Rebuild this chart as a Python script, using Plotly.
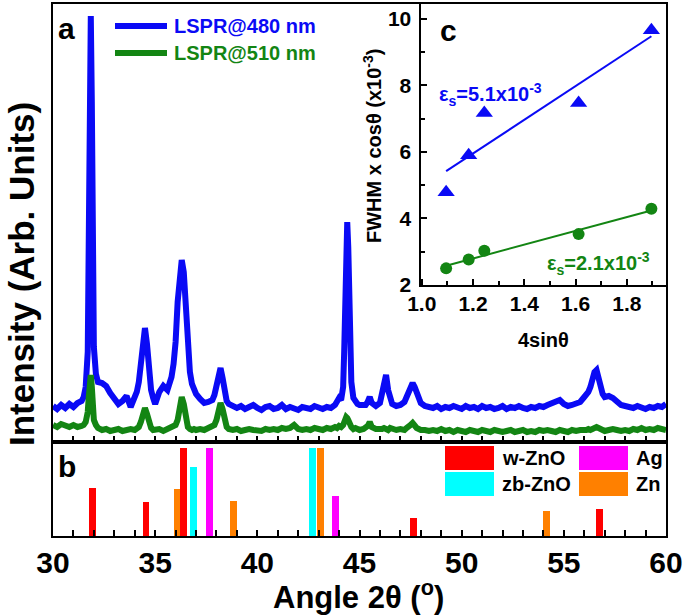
import plotly.graph_objects as go
import numpy as np

# ---------------- Panel a: XRD patterns (arb. units) ----------------
two_theta = [
    30.0, 30.2, 30.4, 30.6, 30.8, 31.0, 31.2, 31.4,
    31.5, 31.6, 31.7, 31.75, 31.8, 31.85, 31.9, 31.95, 32.0, 32.1, 32.2,
    32.4, 32.6, 32.8, 33.0, 33.2, 33.4, 33.6, 33.8, 34.0,
    34.1, 34.2, 34.3, 34.4, 34.5, 34.6, 34.7, 34.8, 34.9,
    35.0, 35.2, 35.4, 35.6, 35.8,
    35.9, 36.0, 36.1, 36.2, 36.3, 36.4, 36.5, 36.6, 36.7, 36.8, 36.9,
    37.0, 37.2, 37.4, 37.6, 37.8,
    37.9, 38.0, 38.1, 38.2, 38.3, 38.4, 38.5, 38.6,
    38.8, 39.0, 39.2, 39.4, 39.6, 39.8, 40.0, 40.2, 40.4, 40.6, 40.8, 41.0, 41.2,
    41.4, 41.6, 41.8, 42.0, 42.2, 42.4, 42.6, 42.8, 43.0, 43.2, 43.4, 43.6, 43.8,
    43.9, 44.0, 44.1, 44.2, 44.25, 44.3, 44.35, 44.4, 44.45, 44.5, 44.55, 44.6, 44.7, 44.8, 44.9,
    45.0, 45.2, 45.3, 45.4, 45.5, 45.6, 45.8,
    46.0, 46.1, 46.2, 46.3, 46.4, 46.5, 46.6, 46.8, 47.0, 47.2, 47.3, 47.4, 47.5, 47.6, 47.7,
    47.8, 47.9, 48.0, 48.2,
    48.4, 48.6, 48.8, 49.0, 49.2, 49.4, 49.6, 49.8, 50.0, 50.2, 50.4, 50.6, 50.8, 51.0, 51.2,
    51.4, 51.6, 51.8, 52.0, 52.2, 52.4, 52.6, 52.8, 53.0, 53.2, 53.4, 53.6, 53.8, 54.0, 54.2,
    54.4, 54.6, 54.8, 55.0, 55.2, 55.4, 55.6, 55.8, 56.0,
    56.1, 56.2, 56.3, 56.4, 56.5, 56.6, 56.7, 56.8, 56.9, 57.0, 57.2, 57.4, 57.6, 57.8,
    58.0, 58.2, 58.4, 58.6, 58.8, 59.0, 59.2, 59.4, 59.6, 59.8, 60.0,
]

lspr480 = [
    36, 33, 37, 34, 38, 35, 39, 41,
    45, 55, 90, 190, 360, 426, 340, 170, 95, 68, 60,
    59, 56, 49, 44, 38, 41, 46, 35, 44,
    50, 60, 80, 105, 114, 98, 70, 52, 44,
    38, 50, 56, 52, 65,
    78, 100, 140, 172, 182, 170, 135, 100, 70, 58, 52,
    48, 43, 39, 40, 42,
    47, 55, 68, 74, 64, 48, 41, 38,
    36, 34, 36, 33, 35, 37, 34, 32, 35, 36, 33, 34, 37,
    33, 35, 34, 32, 35, 34, 33, 36, 34, 33, 35, 34, 37,
    40, 44, 42, 55, 90, 160, 210, 220, 195, 140, 90, 60, 44, 40, 38,
    37, 36, 37, 40, 45, 39, 36,
    39, 48, 63, 67, 52, 41, 38, 36, 37, 40, 45, 51, 57, 59, 55,
    48, 42, 39, 36,
    35, 34, 36, 33, 35, 34, 36, 34, 33, 36, 34, 35, 33, 36, 34,
    35, 33, 34, 36, 33, 35, 34, 36, 34, 33, 35, 34, 36, 35, 37,
    39, 40, 42, 38, 36, 37, 38, 40, 45,
    47, 50, 55, 63, 70, 72, 62, 53, 48, 45, 46, 44, 40, 37,
    36, 35, 34, 36, 35, 33, 35, 34, 36, 35, 38,
]

lspr510 = [
    17, 15, 18, 16, 15, 17, 15, 16,
    17, 20, 30, 45, 62, 67, 55, 35, 22, 17, 14,
    12, 13, 11, 12, 13, 11, 12, 13, 12,
    13, 15, 20, 29, 34, 28, 19, 14, 12,
    12, 13, 11, 13, 14,
    15, 17, 22, 34, 45, 38, 22, 15, 13, 12, 13,
    12, 13, 12, 14, 15,
    17, 22, 32, 39, 33, 22, 15, 13,
    12, 13, 11, 12, 13, 12, 12, 11, 13, 12, 13, 12, 14,
    13, 14, 17, 13, 12, 13, 12, 14, 13, 12, 14, 13, 15,
    14, 16, 15, 17, 19, 22, 25, 24, 22, 19, 16, 15, 13, 14, 13,
    12, 13, 14, 16, 20, 15, 13,
    12, 13, 14, 13, 12, 14, 13, 12, 13, 12, 14, 15, 17, 19, 16,
    14, 13, 12, 12,
    11, 12, 11, 13, 11, 12, 10, 12, 11, 10, 12, 11, 10, 12, 11,
    10, 12, 11, 10, 11, 12, 10, 11, 12, 10, 11, 10, 12, 11, 12,
    11, 10, 12, 11, 10, 12, 11, 12, 11,
    12, 13, 12, 13, 14, 15, 14, 13, 12, 11, 12, 13, 12, 11,
    12, 11, 13, 12, 14, 12, 13, 12, 14, 13, 12,
]
assert len(two_theta) == len(lspr480) == len(lspr510)

series_names = ["LSPR@480 nm", "LSPR@510 nm"]
series_colors = ["#0A0AF5", "#138513"]

# ---------------- Panel b: reference patterns (relative intensity) ----------------
wzno_pos = [31.92, 34.55, 36.40, 47.66, 56.73]
wzno_int = [55, 39, 100, 21, 31]
zbzno_pos = [36.86, 42.72]
zbzno_int = [79, 100]
ag_pos = [37.65, 43.81]
ag_int = [100, 46]
zn_pos = [36.07, 38.83, 43.08, 54.15]
zn_int = [53, 40, 100, 29]
ref_names = ["w-ZnO", "zb-ZnO", "Ag", "Zn"]
ref_colors = ["#FF0000", "#00FFFF", "#FF00FF", "#FF8000"]

# ---------------- Panel c: Williamson-Hall ----------------
four_sin_theta = [1.095, 1.183, 1.244, 1.612, 1.896]
wh_480 = [4.79, 5.90, 7.17, 7.47, 9.66]
wh_510 = [2.50, 2.77, 3.03, 3.53, 4.29]
strain_labels = ["ε<sub>s</sub>=5.1x10<sup>-3</sup>", "ε<sub>s</sub>=2.1x10<sup>-3</sup>"]

# ---------------- figure ----------------
W, H = 685, 615
L, R, T, B = 53, 19, 4, 79
PW, PH = W - L - R, H - T - B


def px(x):
    return (x - L) / PW


def py(y):
    return (T + PH - y) / PH


FONT = "Liberation Sans, Arial, sans-serif"
split = py(442)

fig = go.Figure()

for vals, name, col in zip([lspr480, lspr510], series_names, series_colors):
    fig.add_trace(go.Scatter(x=two_theta, y=vals, mode="lines", name=name,
                             line=dict(color=col, width=6), xaxis="x", yaxis="y",
                             showlegend=False))

for pos, inten, name, col in zip([zn_pos, zbzno_pos, ag_pos, wzno_pos],
                                 [zn_int, zbzno_int, ag_int, wzno_int],
                                 ["Zn", "zb-ZnO", "Ag", "w-ZnO"],
                                 ["#FF8000", "#00FFFF", "#FF00FF", "#FF0000"]):
    fig.add_trace(go.Bar(x=pos, y=inten, name=name, width=0.34, marker=dict(color=col, line=dict(width=0)),
                         xaxis="x2", yaxis="y2", showlegend=False))

xfit = np.array([four_sin_theta[0], four_sin_theta[-1]])
for vals, col, sym, size in [(wh_480, series_colors[0], "triangle-up", 15),
                             (wh_510, series_colors[1], "circle", 12)]:
    k, b0 = np.polyfit(four_sin_theta, vals, 1)
    fig.add_trace(go.Scatter(x=xfit, y=k * xfit + b0, mode="lines", line=dict(color=col, width=2),
                             xaxis="x3", yaxis="y3", showlegend=False))
    fig.add_trace(go.Scatter(x=four_sin_theta, y=vals, mode="markers",
                             marker=dict(symbol=sym, size=size, color=col),
                             xaxis="x3", yaxis="y3", showlegend=False))

axis_common = dict(showline=True, linewidth=2, linecolor="black", mirror=True,
                   showgrid=False, zeroline=False, automargin=False)

fig.update_layout(
    width=W, height=H,
    margin=dict(l=L, r=R, t=T, b=B, autoexpand=False),
    paper_bgcolor="white", plot_bgcolor="white",
    showlegend=False, barmode="overlay", bargap=0,
    font=dict(family=FONT, color="black"),
    xaxis=dict(domain=[0, 1], anchor="y", range=[30, 60], showticklabels=False,
               ticks="inside", dtick=1, tick0=30, ticklen=6, tickwidth=2, tickcolor="black",
               **axis_common),
    yaxis=dict(domain=[split, 1], anchor="x", range=[0, 438], showticklabels=False,
               ticks="", **axis_common),
    xaxis2=dict(domain=[0, 1], anchor="y2", range=[30, 60], dtick=5, tick0=30,
                ticks="inside", ticklen=6, tickwidth=2, tickcolor="black",
                minor=dict(dtick=1, tick0=30, ticks="inside", ticklen=6, tickwidth=2, tickcolor="black"),
                tickfont=dict(size=30, family=FONT, weight="bold", color="black"),
                ticklabelstandoff=-1, **axis_common),
    yaxis2=dict(domain=[0, split], anchor="x2", range=[0, 107], showticklabels=False,
                ticks="", **axis_common),
    xaxis3=dict(domain=[px(420.5), 1], anchor="y3", range=[0.995, 1.953],
                dtick=0.2, tick0=1.0, tickformat=".1f",
                ticks="inside", ticklen=6, tickwidth=2, tickcolor="black",
                minor=dict(dtick=0.1, tick0=1.0, ticks="inside", ticklen=4, tickwidth=2, tickcolor="black"),
                tickfont=dict(size=21, family=FONT, weight="bold", color="black"),
                ticklabelstandoff=-1, **axis_common),
    yaxis3=dict(domain=[py(285), 1], anchor="x3", range=[2, 10.45],
                dtick=2, tick0=2,
                ticks="inside", ticklen=6, tickwidth=2, tickcolor="black",
                minor=dict(dtick=1, tick0=2, ticks="inside", ticklen=4, tickwidth=2, tickcolor="black"),
                tickfont=dict(size=21, family=FONT, weight="bold", color="black"),
                ticklabelstandoff=3, **axis_common),
)

ann = []


def text(x, y, s, size, color="black", xanchor="center", yanchor="middle", angle=0):
    ann.append(dict(x=px(x), y=py(y), xref="paper", yref="paper", text=s, showarrow=False,
                    xanchor=xanchor, yanchor=yanchor, textangle=angle,
                    font=dict(size=size, family=FONT, color=color, weight="bold")))


text(66, 29, "a", 30)
text(67, 466, "b", 30)
text(448, 31, "c", 30)
text(21, 274, "Intensity (Arb. Units)", 35, angle=-90)
text(358, 595, "Angle 2θ (<sup>o</sup>)", 31)
text(543, 340, "4sinθ", 20)
text(373, 146, "FWHM x cosθ (x10<sup>-3</sup>)", 20, angle=-90)
text(437, 95, strain_labels[0], 20, color=series_colors[0], xanchor="left")
text(545, 263, strain_labels[1], 20, color=series_colors[1], xanchor="left")

# legend of panel a
shapes = []
for name, col, yy in zip(series_names, series_colors, [26, 53]):
    shapes.append(dict(type="line", xref="paper", yref="paper", x0=px(115), x1=px(167),
                       y0=py(yy), y1=py(yy), line=dict(color=col, width=6)))
    text(172, yy, name, 20, color=col, xanchor="left")

# legend of panel b
for name, col, (x0, y0) in zip(ref_names, ref_colors,
                               [(445, 446), (445, 472), (579, 446), (579, 472)]):
    shapes.append(dict(type="rect", xref="paper", yref="paper", x0=px(x0), x1=px(x0 + 49),
                       y0=py(y0), y1=py(y0 + 24), fillcolor=col, line=dict(width=0)))
    text(x0 + 55, y0 + 12, name, 20, xanchor="left")

fig.update_layout(annotations=ann, shapes=shapes)
fig.write_html("out.html", config={"displayModeBar": False},
               post_script="document.body.style.margin='0';document.body.style.overflow='hidden';")
